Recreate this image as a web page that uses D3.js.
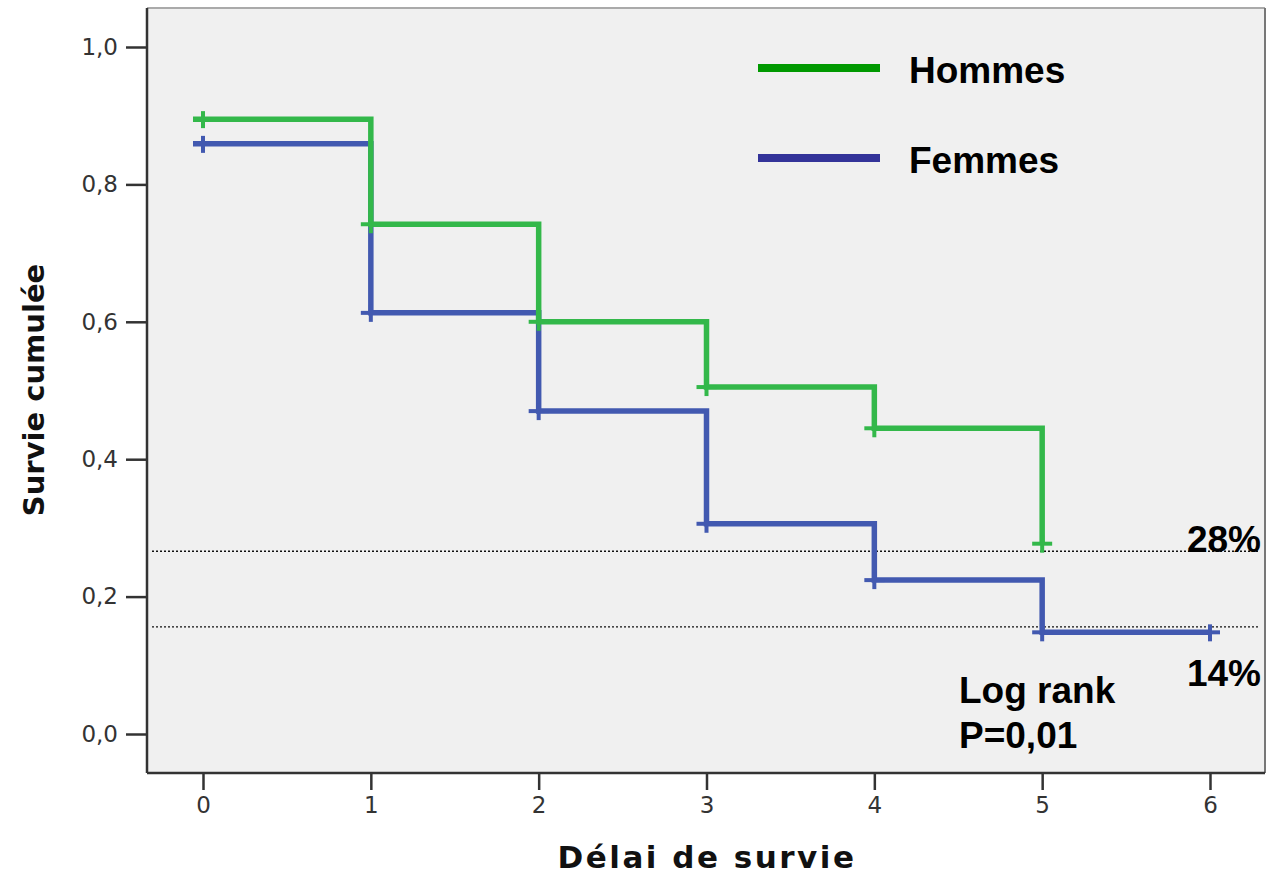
<!DOCTYPE html>
<html><head><meta charset="utf-8">
<script src="https://cdn.jsdelivr.net/npm/d3@7"></script>
<style>body{margin:0;background:#fff}svg{display:block}</style>
</head><body><svg id="c" width="1267" height="874"></svg>
<script>
const times = [0, 1, 2, 3, 4, 5];
const hommes = [0.895, 0.742, 0.600, 0.505, 0.445, 0.277];
const femmesTimes = [0, 1, 2, 3, 4, 5, 6];
const femmes = [0.859, 0.613, 0.470, 0.306, 0.224, 0.148, 0.148];
const xTicks = [0, 1, 2, 3, 4, 5, 6];
const yTicks = [0, 0.2, 0.4, 0.6, 0.8, 1.0];
const refLines = [0.266, 0.156];
const refLabels = ["28%", "14%"];
const seriesNames = ["Hommes", "Femmes"];

const svg = d3.select("#c");
const x = d3.scaleLinear().domain([0, 6]).range([203, 1210]);
const y = d3.scaleLinear().domain([0, 1]).range([734, 47]);
const L = 147, T = 8, R = 1265, B = 773;

svg.append("rect").attr("x", L).attr("y", T).attr("width", R - L).attr("height", B - T)
  .attr("fill", "#f0f0f0");
svg.append("line").attr("x1", L).attr("x2", R).attr("y1", T).attr("y2", T).attr("stroke", "#aaa").attr("stroke-width", 2);
svg.append("line").attr("x1", R).attr("x2", R).attr("y1", T).attr("y2", B).attr("stroke", "#777").attr("stroke-width", 2);

const tickFont = "DejaVu Sans, sans-serif";
// axes
const yAxis = d3.axisLeft(y).tickValues(yTicks).tickSize(21).tickPadding(8)
  .tickFormat(d => d3.format(".1f")(d).replace(".", ","));
const gy = svg.append("g").attr("transform", `translate(${L},0)`).call(yAxis);
gy.select(".domain").attr("d", `M0,${T}V${B}`).attr("stroke", "#333").attr("stroke-width", 2.5);
gy.selectAll(".tick line").attr("stroke", "#333").attr("stroke-width", 2.5);
gy.selectAll(".tick text").attr("font-family", tickFont).attr("font-size", 23).attr("fill", "#333");

const xAxis = d3.axisBottom(x).tickValues(xTicks).tickSize(17).tickPadding(7).tickFormat(d3.format("d"));
const gx = svg.append("g").attr("transform", `translate(0,${B})`).call(xAxis);
gx.select(".domain").attr("d", `M${L},0H${R}`).attr("stroke", "#333").attr("stroke-width", 2.5);
gx.selectAll(".tick line").attr("stroke", "#333").attr("stroke-width", 2.5);
gx.selectAll(".tick text").attr("font-family", tickFont).attr("font-size", 23).attr("fill", "#333");

// reference dotted lines
svg.selectAll(".ref").data(refLines).enter().append("line")
  .attr("x1", 152).attr("x2", 1258).attr("y1", d => y(d)).attr("y2", d => y(d))
  .attr("stroke", "#111").attr("stroke-width", 1.3).attr("stroke-dasharray", "2,2");

function stepPath(ts, vs) {
  const pts = [[x(ts[0]) - 10, y(vs[0])]];
  for (let i = 0; i < ts.length; i++) {
    pts.push([x(ts[i]), y(vs[i])]);
    if (i < ts.length - 1) pts.push([x(ts[i + 1]), y(vs[i])]);
  }
  return d3.line()(pts);
}
function markers(ts, vs, color) {
  const g = svg.append("g").attr("stroke", color).attr("stroke-width", 4).attr("fill", "none");
  ts.forEach((t, i) => {
    const cx = x(t), cy = y(vs[i]);
    g.append("line").attr("x1", cx - 10).attr("x2", cx + 10).attr("y1", cy).attr("y2", cy);
    g.append("line").attr("x1", cx).attr("x2", cx).attr("y1", cy - 8).attr("y2", cy + 9);
  });
}
const cG = "#33b84a", cB = "#4259b0";
svg.append("path").attr("d", stepPath(femmesTimes, femmes)).attr("fill", "none").attr("stroke", cB).attr("stroke-width", 5.5);
markers(femmesTimes, femmes, cB);
svg.append("path").attr("d", stepPath(times, hommes)).attr("fill", "none").attr("stroke", cG).attr("stroke-width", 5.5);
markers(times, hommes, cG);

const bigFont = "Liberation Sans, Arial, sans-serif";
// legend
const legColors = ["#009900", "#333399"];
const lg = svg.selectAll(".leg").data(seriesNames).enter().append("g")
  .attr("transform", (d, i) => `translate(0,${68 + i * 90})`);
lg.append("line").attr("x1", 758).attr("x2", 880).attr("y1", 0).attr("y2", 0)
  .attr("stroke", (d, i) => legColors[i]).attr("stroke-width", 8);
lg.append("text").attr("x", 909).attr("y", 15).text(d => d)
  .attr("font-family", bigFont).attr("font-weight", "bold").attr("font-size", 37).attr("fill", "#000");

// annotations
const ann = svg.append("g").attr("font-family", bigFont).attr("font-weight", "bold").attr("font-size", 37).attr("fill", "#000");
ann.append("text").attr("x", 1261).attr("y", 552).attr("text-anchor", "end").text(refLabels[0]);
ann.append("text").attr("x", 1261).attr("y", 686).attr("text-anchor", "end").text(refLabels[1]);
ann.append("text").attr("x", 959).attr("y", 703).text("Log rank");
ann.append("text").attr("x", 959).attr("y", 748).text("P=0,01");

// axis titles
svg.append("text").attr("x", 707).attr("y", 868).attr("text-anchor", "middle")
  .attr("font-family", "DejaVu Sans, sans-serif").attr("font-weight", "bold").attr("font-size", 31)
  .attr("letter-spacing", 2.5).attr("fill", "#111")
  .text("Délai de survie");
svg.append("text").attr("transform", "translate(44,390) rotate(-90)").attr("text-anchor", "middle")
  .attr("font-family", "DejaVu Sans, sans-serif").attr("font-weight", "bold").attr("font-size", 29).attr("fill", "#111")
  .text("Survie cumulée");
</script></body></html>
